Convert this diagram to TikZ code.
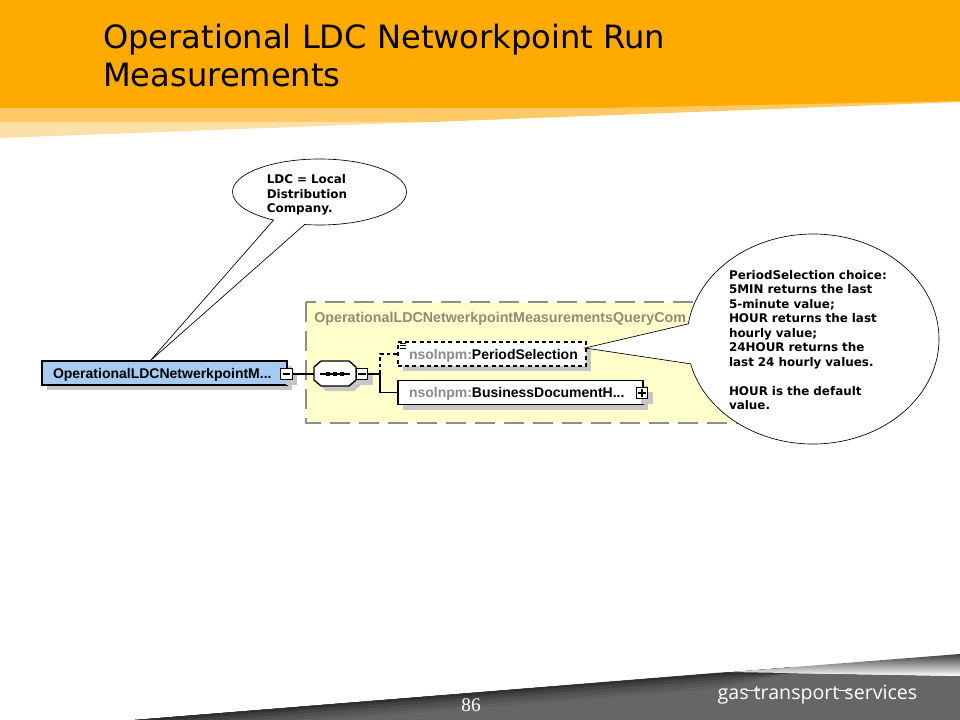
\documentclass[tikz,border=0pt]{standalone}
\usepackage{fontspec}
\setmainfont{DejaVu Sans}
\newfontfamily\boxfont{Liberation Sans}
\newfontfamily\pagefont{Liberation Serif}
\newfontfamily\logofont{Open Sans}
\usetikzlibrary{shapes.callouts, shadows, positioning, calc}
\definecolor{gtsorange}{HTML}{FFAA00}
\definecolor{gtsmid}{HTML}{FFC966}
\definecolor{gtspale}{HTML}{FFDFA8}
\definecolor{gtsgray}{HTML}{666666}
\definecolor{gtsdark}{HTML}{2E2E2E}
\definecolor{xsdblue}{HTML}{A6CAF0}
\definecolor{xsdyellow}{HTML}{FFFFCC}
\definecolor{xsdshadow}{HTML}{C6C6C6}
\definecolor{xsdframe}{HTML}{8E8E8E}
\definecolor{xsdtitle}{HTML}{8C8C78}
\definecolor{xsdprefix}{HTML}{8A8A8A}

\begin{document}
\begin{tikzpicture}[
  x=0.75pt, y=-0.75pt,
  xshadow/.style={drop shadow={shadow xshift=3.75pt, shadow yshift=-3.75pt, fill=xsdshadow, opacity=1}},
  elembox/.style={draw=black, line width=1pt, fill=white, rectangle, inner ysep=0pt, inner xsep=8.25pt, minimum height=18pt, text height=7.6pt, text depth=0pt, align=left, font=\boxfont\bfseries\fontsize{10.5pt}{12pt}\selectfont, xshadow},
  togglebox/.style={draw=black, line width=0.9pt, fill=white, rectangle, inner sep=0pt, minimum width=8.6pt, minimum height=8.6pt, xshadow,
    path picture={\draw[line width=0.9pt] ([xshift=1.4pt]path picture bounding box.west) -- ([xshift=-1.4pt]path picture bounding box.east);}},
  plusbox/.style={togglebox, path picture={
    \draw[line width=0.9pt] ([xshift=1.4pt]path picture bounding box.west) -- ([xshift=-1.4pt]path picture bounding box.east);
    \draw[line width=0.9pt] ([yshift=1.4pt]path picture bounding box.south) -- ([yshift=-1.4pt]path picture bounding box.north);}},
  bubble/.style={ellipse callout, draw=black, line width=0.5pt, fill=white, inner sep=0pt, align=left, font=\bfseries\fontsize{8.95pt}{10.9pt}\selectfont},
  link/.style={line width=1pt, draw=black}
]
  \useasboundingbox (0,0) rectangle (960,720);

  % header bands
  \fill[gtspale] (0,108) -- (500,108) -- (500,119.3) -- (0,138) -- cycle;
  \fill[gtsmid] (0,100) -- (960,100) -- (960,102) -- (500,119.3) -- (430,122) -- (0,122) -- cycle;
  \fill[gtsorange] (0,0) -- (960,0) -- (960,101) -- (600,108) -- (0,108) -- cycle;
  \node[anchor=north west, inner sep=0pt, align=left, font=\fontsize{24.1pt}{28.5pt}\selectfont] (title) at (103,24) {Operational LDC Networkpoint Run\\Measurements};

  % footer
  \fill[gtsgray] (135,720) -- (720,672.5) -- (783,673) -- (960,676) -- (960,720) -- cycle;
  \foreach \d/\m in {16/10, 13/25, 10/40, 7/60, 4/80, 2/100}{
    \fill[gtsdark!\m!gtsgray] (135,720) -- (790,667.5) -- (790,673) -- (720,672.5+\d) -- (135+12*\d,720) -- cycle;
  }
  \shade[top color=gtsdark!70!gtsgray, bottom color=white] (960,654) -- (730,672) -- (960,676) -- cycle;
  \node[font=\pagefont\fontsize{14.5pt}{16pt}\selectfont, text=white, inner sep=0pt] (pagenum) at (471,705) {86};
  \node[font=\logofont\fontsize{14.7pt}{16pt}\selectfont, text=white, inner sep=0pt] (logo) at (817.5,695) {gas transport services};
  \draw[white, line width=0.7pt] (746,690) -- (760,690) (838,690) -- (851,690);

  % schema
  \draw[draw=xsdframe, fill=xsdyellow, line width=1.1pt, dash pattern=on 15pt off 6.75pt] (306,302) rectangle (770,423);
  \node[anchor=west, inner sep=0pt, text=xsdtitle, font=\boxfont\bfseries\fontsize{10.7pt}{12pt}\selectfont] (grouptitle) at (314,318.5) {OperationalLDCNetwerkpointMeasurementsQueryCom};

  \node[elembox, fill=xsdblue, text width=167.25pt] (runbox) at (164.5,373) {OperationalLDCNetwerkpointM...};
  \node[togglebox] (runminus) at (286.5,374) {};
  \filldraw[draw=black, fill=white, line width=1pt, xshadow] (314,367) -- (321,361) -- (349,361) -- (356,367) -- (356,380) -- (349,386) -- (321,386) -- (314,380) -- cycle;
  \node[inner sep=0pt, minimum width=31.5pt, minimum height=18.75pt] (seqbox) at (335,374) {};
  \node[togglebox] (seqminus) at (362,374) {};
  \draw[line width=0.9pt] (320,374) -- (350,374);
  \foreach \x in {328,335,342}{ \fill (\x-1.8,372.2) rectangle (\x+1.8,375.8); }
  \coordinate (fork) at (380,374);

  \node[elembox, dashed, dash pattern=on 3pt off 2.4pt, text width=124.5pt] (periodbox) at (492,354) {{\color{xsdprefix}nsolnpm:}PeriodSelection};
  \node[elembox, text width=167.25pt] (docbox) at (520.5,392.5) {{\color{xsdprefix}nsolnpm:}BusinessDocumentH...};
  \node[plusbox] (docplus) at (642,393) {};
  \foreach \y in {343.5,345.7,347.9}{ \draw[line width=0.6pt] (400,\y) -- (406,\y); }

  \draw[link] (runminus) -- (seqbox);
  \draw[link] (seqminus) -- (fork);
  \draw[link, dash pattern=on 2.8pt off 2.2pt] (fork) |- (periodbox);
  \draw[link] (fork) |- (docbox);

  % callouts
  \coordinate (ldctip) at (150,361);
  \coordinate (periodtip) at (585,348);
  \node[bubble, callout absolute pointer={(ldctip)}, callout pointer arc=22, text width=79pt, minimum width=130.5pt, minimum height=49.5pt] (ldcnote) at (319.5,192) {\rule{0pt}{11pt}LDC = Local\\Distribution\\Company.};
  \node[bubble, callout absolute pointer={(periodtip)}, callout pointer arc=22, text width=126pt, minimum width=189pt, minimum height=157.5pt] (periodnote) at (813,339) {\rule{0pt}{8.5pt}PeriodSelection choice:\\5MIN returns the last\\5-minute value;\\HOUR returns the last\\hourly value;\\24HOUR returns the\\last 24 hourly values.\\[10.9pt]HOUR is the default\\value.};
\end{tikzpicture}
\end{document}
